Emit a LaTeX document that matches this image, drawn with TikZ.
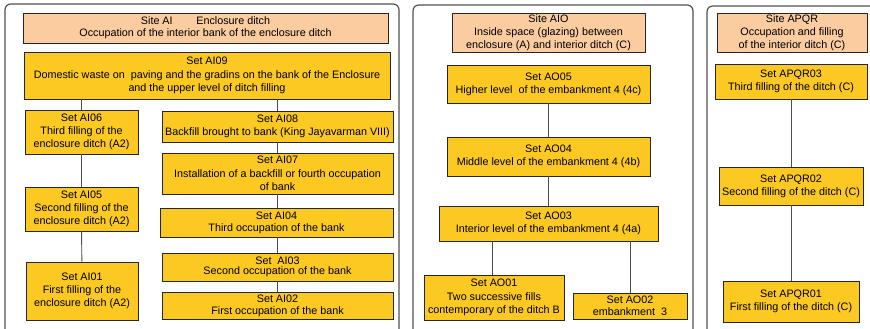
\documentclass[tikz,border=0pt]{standalone}
\usepackage{fontspec}
\setmainfont{Liberation Sans}
\usepackage{xcolor}
\usetikzlibrary{math}
\definecolor{setyellow}{RGB}{252,200,34}
\definecolor{sitepeach}{RGB}{251,204,160}
\definecolor{framegray}{RGB}{80,80,80}

\begin{document}
\begin{tikzpicture}[x=0.03cm,y=-0.03cm,
every node/.style={font=\fontsize{9.2}{11.3}\selectfont, align=center, inner sep=0pt},
sitebox/.style={draw=black!85, fill=sitepeach, line width=0.8pt},
setbox/.style={draw=black!85, fill=setyellow, line width=0.8pt},
sz/.style 2 args={minimum width=#1*0.03cm, minimum height=#2*0.03cm},
link/.style={draw=black!70, line width=0.8pt}]
\tikzmath{
\panelbot=345;
}
\useasboundingbox (0,0) rectangle (870,328);
\clip (0,0) rectangle (870,328);

%panels
\draw[framegray, line width=1pt, rounded corners=5pt] (5,4) rectangle (399,\panelbot);
\draw[framegray, line width=1pt, rounded corners=5pt] (413,5) rectangle (693,\panelbot);
\draw[framegray, line width=1pt, rounded corners=5pt] (707,6) rectangle (900,\panelbot);

%site AI
\node[sitebox, sz={365}{30}] (siteai) at (205.5,28) {Site AI\hspace{2.2em}Enclosure ditch\\[-1pt]Occupation of the interior bank of the enclosure ditch};
\node[setbox, sz={366}{47}] (ai09) at (207,75.5) {Set AI09\\Domestic waste on~ paving and the gradins on the bank of the Enclosure\\and the upper level of ditch filling};
\node[setbox, sz={113}{44}] (ai06) at (81.5,132) {Set AI06\\Third filling of the\\enclosure ditch (A2)};
\node[setbox, sz={113}{44}] (ai05) at (81.5,209) {Set AI05\\Second filling of the\\enclosure ditch (A2)};
\node[setbox, sz={112}{58}] (ai01) at (82,291) {Set AI01\\First filling of the\\enclosure ditch (A2)};
\node[setbox, sz={231}{31}] (ai08) at (277.5,126.5) {Set AI08\\Backfill brought to bank (King Jayavarman VIII)};
\node[setbox, sz={231}{41}] (ai07) at (277.5,173.5) {Set AI07\\Installation of a backfill or fourth occupation\\of bank};
\node[setbox, sz={233}{29}] (ai04) at (276.5,222.5) {Set AI04\\[-1pt]Third occupation of the bank};
\node[setbox, sz={231}{28}] (ai03) at (277.5,267) {Set~ AI03\\[-2.5pt]Second occupation of the bank};
\node[setbox, sz={231}{27}] (ai02) at (277.5,305.5) {Set AI02\\[-1pt]First occupation of the bank};

\draw[link] (ai09.south -| ai06.north) -- (ai06.north);
\draw[link] (ai06) -- (ai05);
\draw[link] (ai05) -- (ai01);
\draw[link] (ai09.south -| ai08.north) -- (ai08.north);
\draw[link] (ai08) -- (ai07);
\draw[link] (ai07.south -| ai08.south) -- (ai04.north -| ai08.south);
\draw[link] (ai04.south -| ai08.south) -- (ai03.north -| ai08.south);
\draw[link] (ai03) -- (ai02);

%site AIO
\node[sitebox, sz={193}{39}] (siteaio) at (548.5,32.5) {Site AIO\\Inside space (glazing) between\\enclosure (A) and interior ditch (C)};
\node[setbox, sz={203}{38}] (ao05) at (548.5,84) {Set AO05\\Higher level~ of the embankment 4 (4c)};
\node[setbox, sz={203}{39}] (ao04) at (548.5,156.5) {Set AO04\\Middle level of the embankment 4 (4b)};
\node[setbox, sz={219}{35}] (ao03) at (548.5,223.5) {Set AO03\\Interior level of the embankment 4 (4a)};
\node[setbox, sz={140}{45}] (ao01) at (494,297.5) {Set AO01\\Two successive fills\\contemporary of the ditch B};
\node[setbox, sz={114}{26}] (ao02) at (630,306) {Set AO02\\[-1pt]embankment~ 3};

\draw[link] (ao05) -- (ao04);
\draw[link] (ao04) -- (ao03);
\coordinate (ao01top) at ([xshift=-2*0.03cm]ao01.north);
\draw[link] (ao03.south -| ao01top) -- (ao01top);
\draw[link] (ao03.south -| ao02.north) -- (ao02.north);

%site APQR
\node[sitebox, sz={150}{39}] (siteapqr) at (792,32.5) {Site APQR\\Occupation and filling\\of the interior ditch (C)};
\node[setbox, sz={152}{35}] (apqr03) at (791,81.5) {Set APQR03\\Third filling of the ditch (C)};
\node[setbox, sz={144}{38}] (apqr02) at (791,186) {Set APQR02\\Second filling of the ditch (C)};
\node[setbox, sz={136}{41}] (apqr01) at (791,301.5) {Set APQR01\\First filling of the ditch (C)};

\draw[link] (apqr03) -- (apqr02);
\draw[link] (apqr02) -- (apqr01);
\end{tikzpicture}
\end{document}
